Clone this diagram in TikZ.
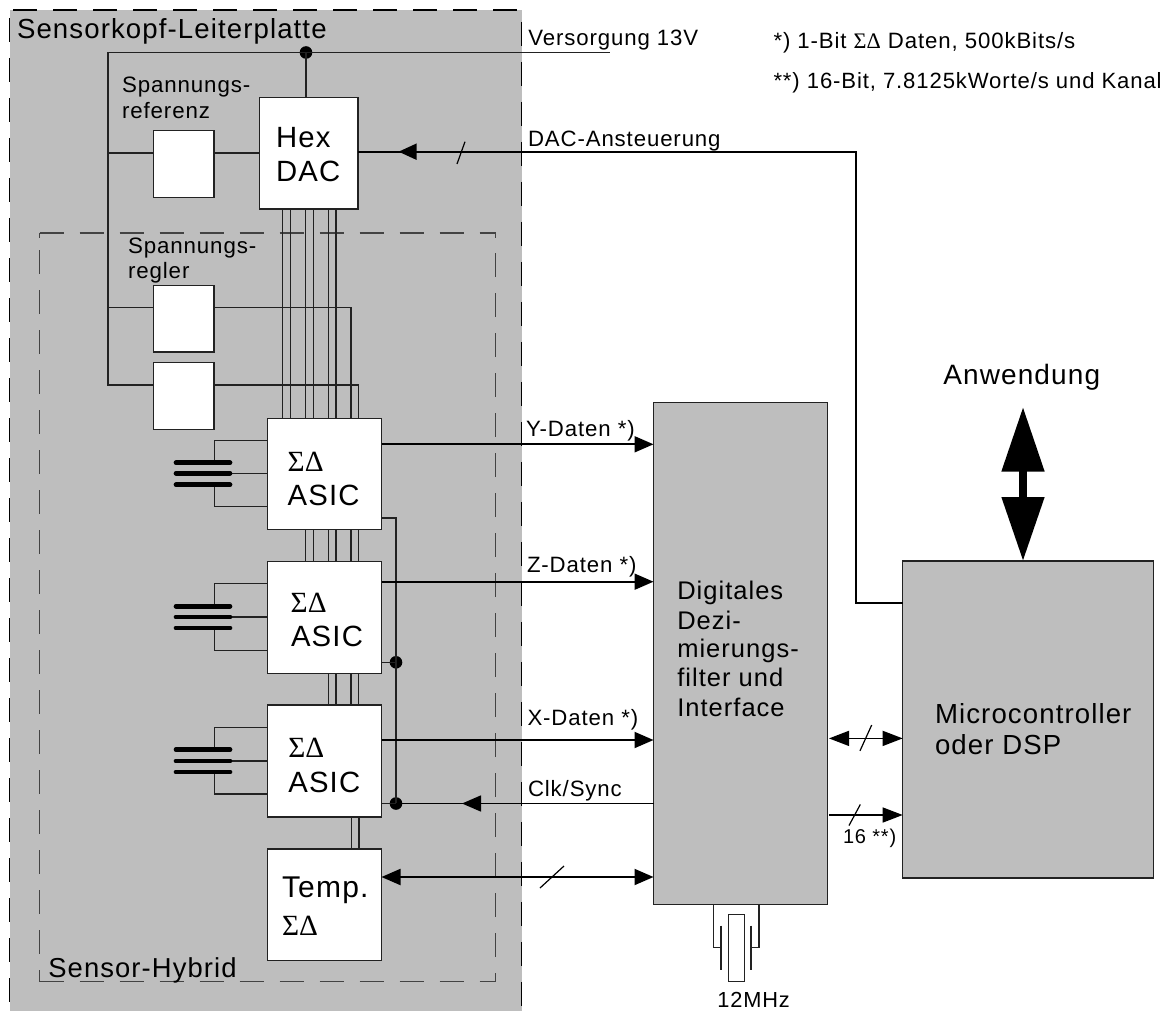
\documentclass[tikz,border=0pt]{standalone}
\usepackage{fontspec}
\setmainfont{Liberation Sans}[LetterSpace=4]
\newfontfamily\symf{Liberation Serif}
\usetikzlibrary{arrows.meta}
\newcommand{\fs}[1]{\fontsize{#1pt}{#1pt}\selectfont}
\newcommand{\sd}{{\symf ΣΔ}}
\definecolor{pcb}{HTML}{BEBEBE}
\definecolor{ink}{HTML}{222222}
\tikzset{
  boxw/.style={draw=ink,line width=1.3pt,fill=white,inner sep=0pt,outer sep=0pt,anchor=north west},
  boxg/.style={draw=ink,line width=1.3pt,fill=pcb,inner sep=0pt,outer sep=0pt,anchor=north west},
  wire/.style={draw=ink,line width=1.3pt},
  sig/.style={draw=black,line width=1.9pt},
  tip/.style={-{Triangle[length=19pt,width=16pt]}},
  btip/.style={{Triangle[length=19pt,width=16pt]}-{Triangle[length=19pt,width=16pt]}},
  bar/.style={line width=4.7pt,line cap=round,draw=black},
  slash/.style={draw=black,line width=1.2pt},
  lbl/.style={anchor=base west,inner sep=0pt,outer sep=0pt,text=black,align=left},
  dot/.style={circle,fill=black,inner sep=0pt,minimum size=12.6pt,outer sep=0pt},
  dash1/.style={draw=black,line width=1.2pt,dash pattern=on 24pt off 16pt},
  dash2/.style={draw=ink!85!white,line width=1.1pt,dash pattern=on 24pt off 16pt},
}
\newcommand{\bx}[6]{\node[#1,minimum width=#4pt-#2pt,minimum height=#5pt-#3pt] (#6) at (#2,#3) {};}
\begin{document}
\begin{tikzpicture}[x=1pt,y=-1pt]
\useasboundingbox (0,0) rectangle (1175,1011);
\fill[pcb] (9.5,10) rectangle (522,1011);
% board outline
\draw[dash1] (13,10) -- (521.5,10);
\draw[dash1] (9.5,18) -- (9.5,1011);
\draw[dash1] (521.5,22) -- (521.5,1011);
% hybrid outline
\draw[dash2] (39.7,233) -- (495.5,233);
\draw[dash2] (39.7,981.7) -- (495.5,981.7);
\draw[dash2] (39.7,250) -- (39.7,981.7);
\draw[dash2] (495.5,253) -- (495.5,981.7);
\draw[dash2] (39.7,233) -- (39.7,238);
\draw[dash2] (495.5,233) -- (495.5,238);

% boxes
\bx{boxw}{259.5}{97.7}{358}{209}{dac}
\bx{boxw}{153.7}{130.7}{214}{197.3}{ref}
\bx{boxw}{153.7}{285.3}{214}{352}{regA}
\bx{boxw}{153.7}{362.7}{214}{429.3}{regB}
\bx{boxw}{267.7}{418.3}{381.5}{529.7}{asicY}
\bx{boxw}{267.7}{561.7}{381.5}{673.3}{asicZ}
\bx{boxw}{267.7}{705}{381.5}{817}{asicX}
\bx{boxw}{267.7}{849}{381.5}{960.7}{temp}
\bx{boxg}{653.5}{402.5}{827.5}{904.5}{filt}
\bx{boxg}{902.7}{561}{1153.7}{878}{micro}

% supply
\coordinate (vend) at (610,52.5);
\coordinate (railTop) at (108,52.5);
\coordinate (railBot) at (108,385);
\node[dot] (vdot) at (306,52.5) {};
\draw[sig,draw=ink] (railTop) -- (vend);
\draw[wire] (railTop) -- (railBot) -- (regB.west |- railBot);
\draw[wire] (vdot.center) -- (dac.north -| vdot.center);
\draw[wire] (railTop |- 0,153) -- (ref.west |- 0,153);
\draw[wire] (ref.east |- 0,153) -- (dac.west |- 0,153);
\draw[wire] (railTop |- 0,307.7) -- (regA.west |- 0,307.7);
\draw[wire] (regA.east |- 0,307.7) -- (351,307.7) -- (351,418.3);
\draw[wire] (regB.east |- railBot) -- (358.5,385) -- (358.5,418.3);

% buses
\foreach \x in {282.4,290.2,305.6,313.2,328.5,336}
  \draw[wire] (dac.south -| \x,0) -- (asicY.north -| \x,0);
\foreach \x in {305.6,313.2,328.5,336,351,358.5}
  \draw[wire] (asicY.south -| \x,0) -- (asicZ.north -| \x,0);
\foreach \x in {328.5,336,351,358.5}
  \draw[wire] (asicZ.south -| \x,0) -- (asicX.north -| \x,0);
\foreach \x in {351.5,359}
  \draw[wire] (asicX.south -| \x,0) -- (temp.north -| \x,0);

% sensors
\foreach \a/\top/\bA/\bB/\bC/\bot in {asicY/440.3/462.7/473.3/484.7/506.7,asicZ/583.7/606.3/617/628/650.3,asicX/727.7/749.6/761/772/794}{
  \draw[wire] (\a.west |- 0,\top) -- (214.3,\top) -- (214.3,\bA);
  \draw[wire] (231,\bB) -- (\a.west |- 0,\bB);
  \draw[wire] (214.3,\bC) -- (214.3,\bot) -- (\a.west |- 0,\bot);
  \draw[bar] (176,\bA) -- (230,\bA);
  \draw[bar] (176,\bB) -- (230,\bB);
  \draw[bar] (176,\bC) -- (230,\bC);
}

% clock
\node[dot] (clkZ) at (396,662.3) {};
\node[dot] (clkX) at (396,803.5) {};
\draw[sig,draw=ink] (asicY.east |- 0,517.7) -- (396,517.7) -- (clkX.center);
\draw[wire] (asicZ.east |- clkZ) -- (clkZ.center);
\draw[wire] (asicX.east |- clkX) -- (clkX.center);
\draw[sig] (clkX.center) -- (480,803.5);
\draw[draw=black,line width=1.5pt,-{Triangle[length=19pt,width=16pt]}] (filt.west |- clkX) -- (462,803.5);

% data
\draw[sig,tip] (asicY.east |- 0,444.3) -- (filt.west |- 0,444.3);
\draw[sig,tip] (asicZ.east |- 0,581.7) -- (filt.west |- 0,581.7);
\draw[sig,tip] (asicX.east |- 0,740) -- (filt.west |- 0,740);
\draw[sig,btip] (temp.east |- 0,877) -- (filt.west |- 0,877);
\draw[slash] (540,888) -- (564,866);

% DAC control
\coordinate (cornA) at (856,151.7);
\coordinate (cornB) at (856,602.7);
\draw[sig] (micro.west |- cornB) -- (cornB) -- (cornA) -- (dac.east |- cornA);
\draw[sig,-{Triangle[length=18pt,width=16pt]}] (cornA) -- (398.6,151.7);
\draw[slash] (457,164) -- (465,141.7);

% filter - micro
\draw[draw=black,line width=1.4pt,{Triangle[length=20pt,width=15pt]}-{Triangle[length=20pt,width=15pt]}] (filt.east |- 0,738.4) ++(1.5,0) -- (micro.west |- 0,738.4);
\draw[slash] (860,750.8) -- (871.7,725);
\draw[draw=black,line width=1.4pt,-{Triangle[length=20pt,width=15pt]}] (filt.east |- 0,815) ++(1.5,0) -- (micro.west |- 0,815);
\draw[slash] (849,825.5) -- (860.3,804.5);

% application
\coordinate (appTop) at (1023,407);
\draw[line width=8pt,draw=black,{Triangle[length=64.5pt,width=41pt]}-{Triangle[length=64pt,width=41pt]}] (appTop) -- (micro.north -| appTop);

% crystal
\bx{boxw}{728.3}{914.3}{744.3}{981.7}{xtal}
\coordinate (pL) at (721,947.7);
\coordinate (pR) at (751,947.7);
\draw[wire] (filt.south -| 713.7,0) -- (713.7,947.7) -- (pL);
\draw[wire] (filt.south -| 759,0) -- (759,947.7) -- (pR);
\draw[wire] (721,925.7) -- (721,970.3);
\draw[wire] (751,925.7) -- (751,970.3);

% labels
\node[lbl] (tBoard) at (17,39) {\fs{27.6}Sensorkopf-Leiterplatte};
\node[lbl] (tVers) at (528.4,46) {\fs{22.2}Versorgung 13V};
\node[lbl] (tNoteA) at (773.5,48.3) {\fs{22.2}*) 1-Bit \sd{} Daten, 500kBits/s};
\node[lbl] (tNoteB) at (773.5,88.3) {\fs{22.1}**) 16-Bit, 7.8125kWorte/s und Kanal};
\node[lbl] (tRefA) at (122,93) {\fs{22.3}Spannungs-};
\node[lbl] (tRefB) at (122,119) {\fs{22.3}referenz};
\node[lbl] (tRegA) at (128,253) {\fs{22.3}Spannungs-};
\node[lbl] (tRegB) at (128,278) {\fs{22.3}regler};
\node[lbl] (tHex) at (276,148) {\fs{29.3}Hex};
\node[lbl] (tDac) at (276,182) {\fs{29.3}DAC};
\node[lbl] (tDacC) at (528,146.7) {\fs{22.2}DAC-Ansteuerung};
\node[lbl] (tY) at (526,436) {\fs{22.2}Y-Daten *)};
\node[lbl] (tZ) at (527,572) {\fs{22.2}Z-Daten *)};
\node[lbl] (tX) at (527.5,725.7) {\fs{22.2}X-Daten *)};
\node[lbl] (tClk) at (528,796.7) {\fs{22.2}Clk/Sync};
\node[lbl] (tSdY) at (287.7,471) {\fs{29.3}\sd};
\node[lbl] (tAsY) at (287.7,505.7) {\fs{29.3}ASIC};
\node[lbl] (tSdZ) at (290.7,612) {\fs{29.3}\sd};
\node[lbl] (tAsZ) at (291,646.7) {\fs{29.3}ASIC};
\node[lbl] (tSdX) at (288.3,757.7) {\fs{29.3}\sd};
\node[lbl] (tAsX) at (288.3,792.7) {\fs{29.3}ASIC};
\node[lbl] (tTemp) at (282,897.7) {\fs{30}Temp.};
\node[lbl] (tSdT) at (282,935) {\fs{29.3}\sd};
\node[lbl] (tHyb) at (48.3,977.3) {\fs{27.4}Sensor-Hybrid};
\node[lbl] (tDigA) at (677.3,599) {\fs{25.5}Digitales};
\node[lbl] (tDigB) at (677.3,629) {\fs{25.5}Dezi-};
\node[lbl] (tDigC) at (677.3,657.7) {\fs{25.5}mierungs-};
\node[lbl] (tDigD) at (677.3,686.7) {\fs{25.5}filter und};
\node[lbl] (tDigE) at (677.3,716.7) {\fs{25.5}Interface};
\node[lbl] (tMicA) at (935,723) {\fs{27.6}Microcontroller};
\node[lbl] (tMicB) at (935,754) {\fs{27.6}oder DSP};
\node[lbl] (tApp) at (943.3,384.8) {\fs{28}Anwendung};
\node[lbl] (t16) at (843,843.5) {\fs{20}16 **)};
\node[lbl] (tXt) at (717.3,1007.7) {\fs{21.8}12MHz};
\end{tikzpicture}
\end{document}
